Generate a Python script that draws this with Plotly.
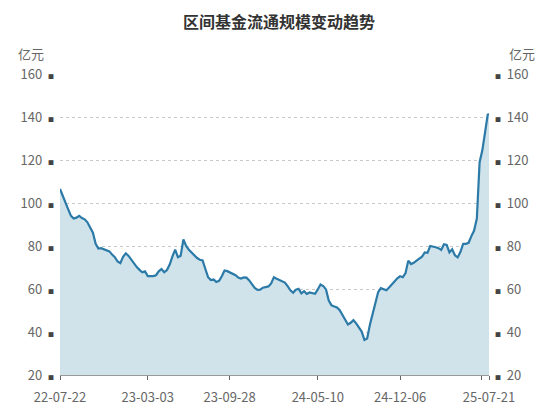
import plotly.graph_objects as go
import pandas as pd

# weekly observations (Fridays) plus the final day
dates = list(pd.date_range("2022-07-22", "2025-07-18", freq="W-FRI").strftime("%Y-%m-%d")) + ["2025-07-21"]

values = [
    106.5, 103.6, 100.0, 97.0, 94.0, 92.8, 93.2, 94.0, 93.0, 92.4,
    91.0, 88.8, 86.2, 81.0, 78.8, 79.0, 78.5, 78.0, 77.5, 76.0,
    74.8, 72.8, 72.0, 75.0, 76.6, 75.4, 73.7, 71.5, 70.2, 68.9,
    67.8, 68.2, 66.0, 66.0, 66.0, 66.4, 68.2, 69.3, 67.8, 68.8,
    71.4, 75.2, 78.3, 74.8, 75.5, 83.0, 80.0, 78.2, 76.9, 75.6,
    74.4, 73.6, 73.3, 69.3, 65.5, 64.2, 64.4, 63.3, 63.8, 65.9,
    68.6, 68.3, 67.6, 66.9, 66.4, 65.3, 64.9, 65.4, 65.3, 64.0,
    62.0, 60.5, 59.6, 59.7, 60.6, 60.8, 61.2, 62.6, 65.5, 64.8,
    64.2, 63.8, 63.0, 61.3, 59.4, 58.3, 59.7, 60.1, 58.0, 59.0,
    57.7, 58.4, 58.0, 57.8, 59.8, 62.1, 61.4, 59.8, 54.6, 52.4,
    51.9, 51.4, 50.1, 47.9, 45.3, 43.5, 44.3, 45.5, 44.0, 41.8,
    40.2, 36.3, 37.0, 43.4, 48.6, 53.0, 58.5, 60.4, 60.0, 59.4,
    60.7, 62.2, 63.3, 65.0, 65.9, 65.5, 67.4, 73.2, 71.6, 72.2,
    73.2, 74.0, 75.0, 77.0, 76.8, 80.0, 79.8, 79.4, 79.0, 78.2,
    80.8, 80.5, 77.0, 78.5, 75.7, 74.7, 77.2, 81.0, 81.0, 81.5,
    84.6, 87.2, 92.8, 119.0, 124.5, 134.0, 141.4, 140.9,
]

x_ticks = ["2022-07-22", "2023-03-03", "2023-09-28", "2024-05-10", "2024-12-06", "2025-07-01", "2025-07-21"]
x_labels = ["22-07-22", "23-03-03", "23-09-28", "24-05-10", "24-12-06", "", "25-07-21"]
y_ticks = [20, 40, 60, 80, 100, 120, 140, 160]

FONT = "Noto Sans CJK SC, Microsoft YaHei, sans-serif"
sq = "<span style='font-size:6px;color:#444'>■</span>"
left_text = [f"{v}\u00a0\u00a0{sq}" for v in y_ticks]
right_text = [f"{sq}\u00a0\u00a0{v}" for v in y_ticks]

fig = go.Figure()
fig.add_trace(go.Scatter(
    x=dates, y=values, mode="lines",
    line=dict(color="#2b7aa8", width=2.2),
    fill="tozeroy", fillcolor="#d0e3eb",
    hoverinfo="x+y", showlegend=False,
))
# invisible trace to carry the right axis
fig.add_trace(go.Scatter(x=dates, y=values, yaxis="y2", mode="lines",
                         line=dict(width=0), hoverinfo="skip", showlegend=False))

# page has an 8px body margin, so the figure is a little smaller than the window
fig.update_layout(
    width=542, height=410,
    margin=dict(l=50, r=61, t=66, b=39),
    paper_bgcolor="white", plot_bgcolor="white",
    font=dict(family=FONT, size=13, color="#666"),
    title=dict(text="<b>区间基金流通规模变动趋势</b>", x=0.5, xanchor="center",
               y=0.966, yanchor="middle",
               font=dict(family=FONT, size=16, color="#333")),
    xaxis=dict(
        type="date", range=[dates[0], dates[-1]],
        tickvals=x_ticks, ticktext=x_labels,
        showgrid=False, zeroline=False,
        showline=True, linecolor="#999", linewidth=1,
        ticks="outside", ticklen=4, tickcolor="#666",
        ticklabelstandoff=6,
        tickfont=dict(size=13, color="#666"),
    ),
    yaxis=dict(
        range=[20, 160], tickvals=y_ticks, ticktext=left_text,
        showgrid=True, gridcolor="#c8c8c8", griddash="dot", gridwidth=1,
        zeroline=False, showline=False, ticks="",
        ticklabelstandoff=5,
        tickfont=dict(size=13, color="#666"),
    ),
    yaxis2=dict(
        range=[20, 160], tickvals=y_ticks, ticktext=right_text,
        overlaying="y", side="right", showgrid=False,
        zeroline=False, showline=False, ticks="",
        ticklabelstandoff=5,
        tickfont=dict(size=13, color="#666"),
    ),
    annotations=[
        dict(text="亿元", xref="paper", yref="paper", x=0, y=1, xanchor="right",
             yanchor="bottom", xshift=-14, yshift=9, showarrow=False,
             font=dict(size=13, color="#666")),
        dict(text="亿元", xref="paper", yref="paper", x=1, y=1, xanchor="left",
             yanchor="bottom", xshift=18, yshift=9, showarrow=False,
             font=dict(size=13, color="#666")),
    ],
)

fig.write_html("out.html")
